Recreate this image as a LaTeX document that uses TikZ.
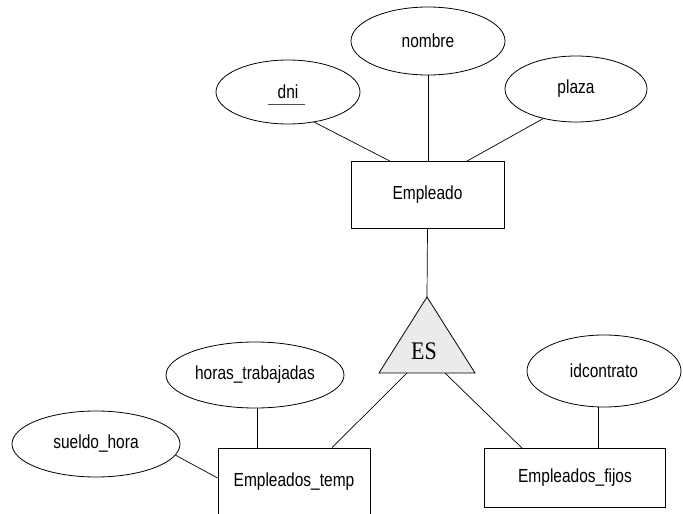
\documentclass[tikz,border=0pt]{standalone}
\usepackage{graphicx}
\usepackage{fontspec}
\setmainfont{Liberation Sans}
\newfontfamily\esfont{Liberation Serif}
\usetikzlibrary{shapes.geometric,calc}
% labels are set a little taller than wide
\newcommand\tallt[1]{\scalebox{1}[1.22]{#1}}

\begin{document}
\begin{tikzpicture}[x=1pt,y=-1pt,
  every node/.style={font=\fontsize{15.5}{18}\selectfont},
  attr/.style={draw, ellipse, inner sep=0pt, line width=0.8pt},
  entity/.style={draw, rectangle, inner sep=0pt, line width=0.8pt},
  link/.style={line width=0.7pt},
  isa/.style={draw, line width=0.8pt, fill=black!8}]
\useasboundingbox (0,0) rectangle (683,514);
\clip (0,0) rectangle (683,514);

% attributes of Empleado
\node[attr, minimum width=154, minimum height=68] (nombre) at (428,41) {\tallt{nombre}};
\node[attr, minimum width=144, minimum height=64] (dni) at (288,92) {\tallt{dni}};
\node[attr, minimum width=142, minimum height=66] (plaza) at (576,89) {\tallt{plaza}};
\draw[line width=0.6pt, black!70] ($(dni.center)+(-20,12)$) -- ($(dni.center)+(17,12)$);

% superclass
\node[entity, minimum width=153, minimum height=67] (emp) at (427.5,195) {\tallt{Empleado}};

% specialisation triangle
\coordinate (tA) at (427,297);
\coordinate (tL) at (379,373);
\coordinate (tR) at (475,373);
\coordinate (tB1) at (407,373);
\coordinate (tB2) at (445,373);
\draw[isa] (tA) -- (tL) -- (tR) -- cycle;
\node[font=\esfont\fontsize{22}{26}\selectfont] (es) at (424,351) {\scalebox{1}[1.15]{ES}};

% subclasses and their attributes
\node[attr, minimum width=178, minimum height=66] (horas) at (255,375) {\tallt{horas\_trabajadas}};
\node[attr, minimum width=168, minimum height=66] (sueldo) at (96,444) {\tallt{sueldo\_hora}};
\node[attr, minimum width=154, minimum height=72] (idc) at (604,371) {\tallt{idcontrato}};
\node[entity, minimum width=152, minimum height=68] (temp) at (294,482) {\tallt{Empleados\_temp}};
\node[entity, minimum width=181, minimum height=59] (fijos) at (575,478) {\tallt{Empleados\_fijos}};

% connectors
\draw[link] (dni.-49) -- ([xshift=-37.5pt]emp.north);
\draw[link] (nombre.south) -- (nombre.south |- emp.north);
\draw[link] (plaza.-138) -- ([xshift=39.5pt]emp.north);
\draw[link] (emp.south) -- (tA);
\draw[link] (tB1) -- ([xshift=38pt]temp.north);
\draw[link] (tB2) -- ([xshift=-53pt]fijos.north);
\draw[link] ([xshift=2pt]horas.south) -- ([xshift=2pt]horas.south |- temp.north);
\draw[link] (sueldo.-8) -- ([yshift=4pt]temp.west);
\draw[link] ([xshift=-6pt]idc.south) -- ([xshift=-6pt]idc.south |- fijos.north);
\end{tikzpicture}
\end{document}
